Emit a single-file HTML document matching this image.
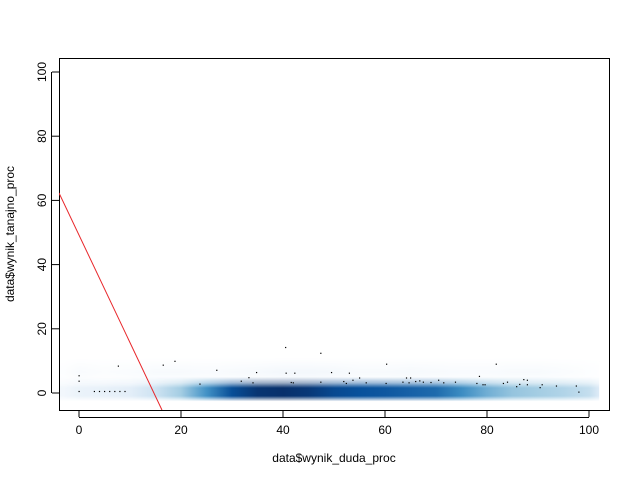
<!DOCTYPE html>
<html><head><meta charset="utf-8"><style>
body{margin:0;background:#fff}
svg{display:block;font-family:"Liberation Sans",Arial,sans-serif}
</style></head><body>
<svg id="chart" width="640" height="480">
<defs>
<linearGradient id="vfade" x1="0" y1="0" x2="0" y2="1">
<stop offset="0" stop-color="#000"/><stop offset="0.25" stop-color="#666"/><stop offset="0.45" stop-color="#fff"/><stop offset="0.78" stop-color="#fff"/><stop offset="1" stop-color="#000"/>
</linearGradient>
<linearGradient id="vfade2" x1="0" y1="0" x2="0" y2="1">
<stop offset="0" stop-color="#000"/><stop offset="0.5" stop-color="#777"/><stop offset="1" stop-color="#000"/>
</linearGradient>
<clipPath id="plotclip"><rect x="59" y="58" width="550" height="352"/></clipPath>
</defs>
<g id="density" clip-path="url(#plotclip)"></g>
<g id="points"></g>
<g id="axes"></g>
</svg>
<script>
const binCenters=[-3,0,5,10,15,20,25,30,35,40,45,50,55,60,65,70,75,80,85,90,95,100,102];
const binDensity=[0.08,0.12,0.14,0.17,0.25,0.38,0.6,0.82,0.97,1.0,0.95,0.85,0.8,0.78,0.75,0.72,0.62,0.5,0.42,0.38,0.34,0.28,0.2];
const hazeDensity=[0.1,0.25,0.15,0.2,0.3,0.3,0.25,0.3,0.35,0.45,0.45,0.4,0.3,0.3,0.35,0.3,0.25,0.25,0.3,0.3,0.2,0.1,0.05];
const ptX=[40.5,47.4,18.8,16.5,7.7,60.3,81.8,27,0,0,34.8,40.6,42.3,49.5,53,33.3,31.8,34.1,23.7,41.6,42,47.4,51.9,52.4,53.7,55,56.3,60.2,64.2,65,63.5,64.7,66,66.8,67.5,69,70.5,71.5,73.8,78,78.5,79.2,79.6,84,83.2,85.8,86.4,87.2,87.9,87.9,90.8,90.4,93.6,97.5,98,0,3,4,5,6,7,8,9];
const ptY=[14.2,12.4,9.9,8.7,8.4,9.0,9.0,7.1,5.4,3.7,6.4,6.2,6.2,6.4,6.2,4.8,3.7,3.2,2.8,3.3,3.2,3.4,3.6,3.0,4.0,4.7,3.2,3.0,4.7,4.7,3.4,3.2,3.6,3.8,3.4,3.3,4.0,3.2,3.4,3.0,5.2,2.6,2.6,3.4,3.0,2.0,2.7,4.2,4.0,2.6,2.6,1.7,2.2,2.2,0.3,0.5,0.5,0.5,0.5,0.5,0.5,0.5,0.5];
const xTicks=[0,20,40,60,80,100];
const yTicks=[0,20,40,60,80,100];
const lineA=49.2, lineB=-3.35;

const X=v=>79+v*5.1, Y=v=>393-v*3.21;
const NS="http://www.w3.org/2000/svg";
function mk(t,p){const e=document.createElementNS(NS,t);for(const k in p)e.setAttribute(k,p[k]);return e;}
function blues(t){const s=[[255,255,255],[222,235,247],[158,202,225],[66,146,198],[8,81,156],[8,48,107]];
 t=Math.max(0,Math.min(1,t))*(s.length-1);const i=Math.min(s.length-2,Math.floor(t)),f=t-i;
 return 'rgb('+s[i].map((c,j)=>Math.round(c+(s[i+1][j]-c)*f)).join(',')+')';}
const svg=document.getElementById('chart');
const defs=svg.querySelector('defs');
const dens=document.getElementById('density');
const xa=X(-4), xb=X(102);
function hgrad(id,vals,scale){
 const g=mk('linearGradient',{id:id,gradientUnits:'userSpaceOnUse',x1:xa,y1:0,x2:xb,y2:0});
 binCenters.forEach((c,i)=>{g.appendChild(mk('stop',{offset:((X(c)-xa)/(xb-xa)).toFixed(4),'stop-color':blues(vals[i]*scale)}));});
 defs.appendChild(g);}
hgrad('hmain',binDensity,1);hgrad('hhaze',hazeDensity,0.35);
const m1=mk('mask',{id:'m1',maskUnits:'userSpaceOnUse',x:0,y:0,width:640,height:480});
m1.appendChild(mk('rect',{x:0,y:Y(5),width:640,height:Y(-2.6)-Y(5),fill:'url(#vfade)'}));defs.appendChild(m1);
const m2=mk('mask',{id:'m2',maskUnits:'userSpaceOnUse',x:0,y:0,width:640,height:480});
m2.appendChild(mk('rect',{x:0,y:Y(11),width:640,height:Y(2)-Y(11),fill:'url(#vfade2)'}));defs.appendChild(m2);
const haze=mk('rect',{x:xa,y:Y(11),width:xb-xa,height:Y(2)-Y(11),fill:'url(#hhaze)',mask:'url(#m2)'});


dens.appendChild(haze);
const band=mk('rect',{x:xa,y:Y(5),width:xb-xa,height:Y(-2.6)-Y(5),fill:'url(#hmain)',mask:'url(#m1)'});


dens.appendChild(band);
const pts=document.getElementById('points');
ptX.forEach((x,i)=>{const c=mk('rect',{x:X(x)-0.5,y:Y(ptY[i])-0.5,width:1.2,height:1.2,fill:'#000'});
 
 
 pts.appendChild(c);});
const x0=-3.92,x1=(-5.3-lineA)/lineB;
const ln=mk('line',{x1:X(x0),y1:Y(lineA+lineB*x0),x2:X(x1),y2:Y(lineA+lineB*x1),stroke:'#e8262a','stroke-width':1,'clip-path':'url(#plotclip)'});


svg.appendChild(ln);
const ax=document.getElementById('axes');
const box=mk('rect',{x:59.5,y:58.5,width:550,height:352,fill:'none',stroke:'#000'});


ax.appendChild(box);
xTicks.forEach(v=>{
 const t=mk('line',{x1:X(v),x2:X(v),y1:410,y2:417,stroke:'#000'});
 
 
 ax.appendChild(t);
 const l=mk('text',{x:X(v),y:434,'text-anchor':'middle','font-size':12});l.textContent=v;
 
 
 ax.appendChild(l);});
ax.appendChild(mk('line',{x1:X(0),x2:X(100),y1:417.5,y2:417.5,stroke:'#000'}));
yTicks.forEach(v=>{
 const t=mk('line',{x1:52,x2:59,y1:Y(v),y2:Y(v),stroke:'#000'});
 
 
 ax.appendChild(t);
 const l=mk('text',{x:46,y:Y(v),'text-anchor':'middle','font-size':12,transform:'rotate(-90 46 '+Y(v)+')'});l.textContent=v;
 
 
 ax.appendChild(l);});
ax.appendChild(mk('line',{x1:51.5,x2:51.5,y1:Y(0),y2:Y(100),stroke:'#000'}));
const xl=mk('text',{x:334,y:462,'text-anchor':'middle','font-size':12});xl.textContent='data$wynik_duda_proc';


ax.appendChild(xl);
const yl=mk('text',{x:14,y:234,'text-anchor':'middle','font-size':12,transform:'rotate(-90 14 234)'});yl.textContent='data$wynik_tanajno_proc';


ax.appendChild(yl);
</script>
</body></html>
